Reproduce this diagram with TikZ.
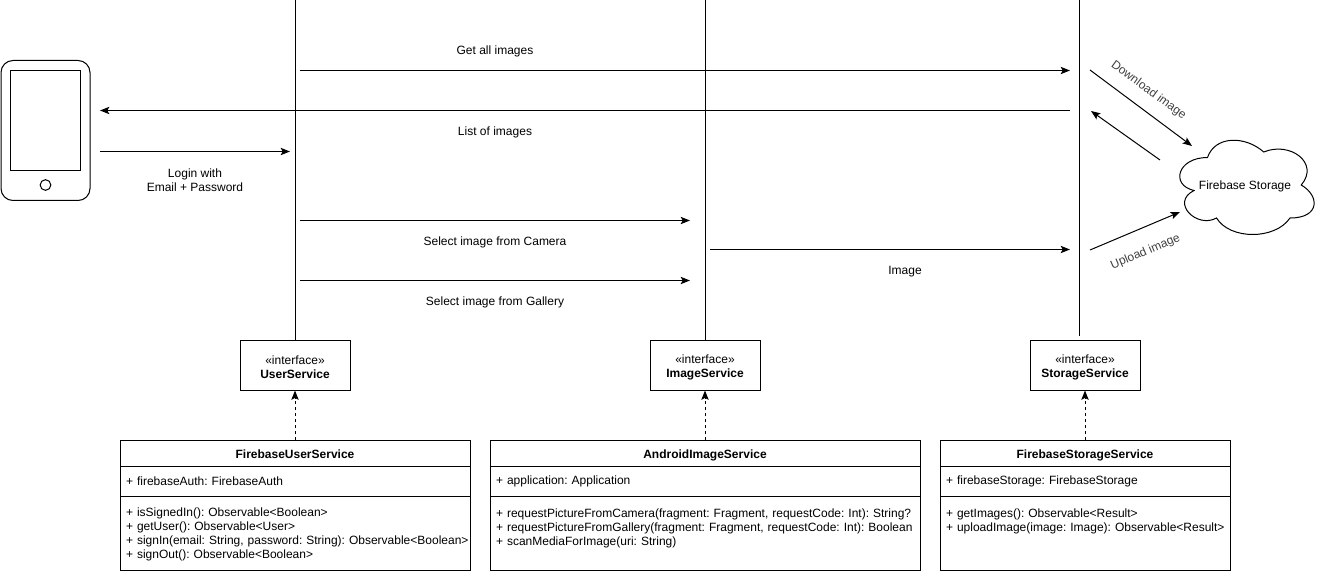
\documentclass[tikz,border=0pt]{standalone}
\usepackage{fontspec}
\setmainfont{Liberation Sans}
\usetikzlibrary{arrows.meta}
\tikzset{
    every node/.style={font=\fontsize{9}{10.5}\selectfont\frenchspacing},
    every path/.style={line width=0.75pt},
    flow/.style={-{Stealth[length=7pt,width=5.5pt,inset=1.5pt]}},
    realize/.style={flow,dash pattern=on 2.25pt off 2.25pt},
    slanted/.style={text=black!75},
    iface/.style={draw,minimum width=82.5pt,minimum height=37.5pt,inner sep=0pt,align=center},
    classpart/.style={draw,anchor=north west,inner sep=0pt,outer sep=0pt},
    classtitle/.style={classpart,minimum height=19.5pt,text height=8pt,text depth=0pt},
    classattr/.style={classpart,inner xsep=4.5pt,align=left,minimum height=22.5pt},
    classops/.style={classpart,inner xsep=4.5pt,align=left,minimum height=55.5pt,execute at begin node=\rule{0pt}{8pt}},
}
\newcommand{\ifacetext}[1]{\rule{0pt}{10pt}«interface»\\\textbf{#1}}
\begin{document}
\begin{tikzpicture}[x=0.75pt,y=-0.75pt]
        \useasboundingbox (0,0) rectangle (1321,574);

        \node[draw,rounded corners=9pt,minimum width=66.75pt,minimum height=105pt,inner sep=0pt] (phone) at (45.5,130.5) {};
        \node[draw,minimum width=52.5pt,minimum height=75pt,inner sep=0pt] (screen) at (45.5,120.5) {};
        \node[draw,circle,minimum size=8pt,inner sep=0pt] (button) at (45.5,185) {};

        \node[iface] (userservice) at (295,365) {\ifacetext{UserService}};
        \node[iface] (imageservice) at (705,365) {\ifacetext{ImageService}};
        \node[iface] (storageservice) at (1085,365) {\ifacetext{StorageService}};

        \node[classtitle,minimum width=262.5pt] (fus) at (120,440) {\textbf{FirebaseUserService}};
        \node[classattr,text width=253.5pt] (fusattr) at (120,466) {+ firebaseAuth: FirebaseAuth};
        \node[classops,text width=253.5pt] (fusops) at (120,496) {+ isSignedIn(): Observable<Boolean>\\+ getUser(): Observable<User>\\\mbox{+ signIn(email: String, password: String): Observable<Boolean>}\\+ signOut(): Observable<Boolean>};

        \node[classtitle,minimum width=322.5pt] (ais) at (490,440) {\textbf{AndroidImageService}};
        \node[classattr,text width=313.5pt] (aisattr) at (490,466) {+ application: Application};
        \node[classops,text width=313.5pt] (aisops) at (490,496) {\mbox{+ requestPictureFromCamera(fragment: Fragment, requestCode: Int): String?}\\\mbox{+ requestPictureFromGallery(fragment: Fragment, requestCode: Int): Boolean}\\+ scanMediaForImage(uri: String)\\~};

        \node[classtitle,minimum width=217.5pt] (fss) at (940,440) {\textbf{FirebaseStorageService}};
        \node[classattr,text width=208.5pt] (fssattr) at (940,466) {+ firebaseStorage: FirebaseStorage};
        \node[classops,text width=208.5pt] (fssops) at (940,496) {+ getImages(): Observable<Result>\\\mbox{+ uploadImage(image: Image): Observable<Result>}\\~\\~};

        \node (cloud) at (1245,186) {Firebase Storage};
        \draw (1207.5,157.5) .. controls (1177.5,157.5) and (1170,185) .. (1194,190.5)
            .. controls (1170,202.6) and (1197,229) .. (1216.5,218)
            .. controls (1230,240) and (1275,240) .. (1290,218)
            .. controls (1320,218) and (1320,196) .. (1301.25,185)
            .. controls (1320,163) and (1290,141) .. (1263.75,152)
            .. controls (1245,135.5) and (1215,135.5) .. (1207.5,157.5) -- cycle;

        \coordinate (top1) at (295.5,0);
        \coordinate (top2) at (705,0);
        \coordinate (top3) at (1079.5,0);
        \coordinate (end3) at (1079.5,336);
        \coordinate (get1) at (300,70.5);
        \coordinate (get2) at (1070,70.5);
        \coordinate (list1) at (1070,110.5);
        \coordinate (list2) at (100,110.5);
        \coordinate (login1) at (100,151.5);
        \coordinate (login2) at (290,151.5);
        \coordinate (cam1) at (300,220.5);
        \coordinate (cam2) at (690,220.5);
        \coordinate (gal1) at (300,280.5);
        \coordinate (gal2) at (690,280.5);
        \coordinate (img1) at (710,249.5);
        \coordinate (img2) at (1070,249.5);
        \coordinate (down1) at (1090,70);
        \coordinate (down2) at (1192,146);
        \coordinate (back1) at (1160,160);
        \coordinate (back2) at (1091,111);
        \coordinate (up1) at (1090,250);
        \coordinate (up2) at (1180,212);

        \draw[-] (top1) -- (top1 |- userservice.north);
        \draw[-] (top2) -- (top2 |- imageservice.north);
        \draw[-] (top3) -- (end3);

        \draw[flow] (get1) -- (get2);
        \draw[flow] (list1) -- (list2);
        \draw[flow] (login1) -- (login2);
        \draw[flow] (cam1) -- (cam2);
        \draw[flow] (gal1) -- (gal2);
        \draw[flow] (img1) -- (img2);
        \draw[flow] (down1) -- (down2);
        \draw[flow] (back1) -- (back2);
        \draw[flow] (up1) -- (up2);

        \draw[realize] (userservice.south |- fus.north) -- (userservice.south);
        \draw[realize] (imageservice.south |- ais.north) -- (imageservice.south);
        \draw[realize] (storageservice.south |- fss.north) -- (storageservice.south);

        \node (getlabel) at (495,51) {Get all images};
        \node (listlabel) at (495,132) {List of images};
        \node[align=center] (loginlabel) at (195,180.5) {Login with\\Email + Password};
        \node (camlabel) at (495,242) {Select image from Camera};
        \node (gallabel) at (495,302) {Select image from Gallery};
        \node (imglabel) at (905,272) {Image};
        \node[slanted,rotate=-36] (downlabel) at (1148.5,90.5) {Download image};
        \node[slanted,rotate=23] (uplabel) at (1145.5,252) {Upload image};
    \end{tikzpicture}
\end{document}
